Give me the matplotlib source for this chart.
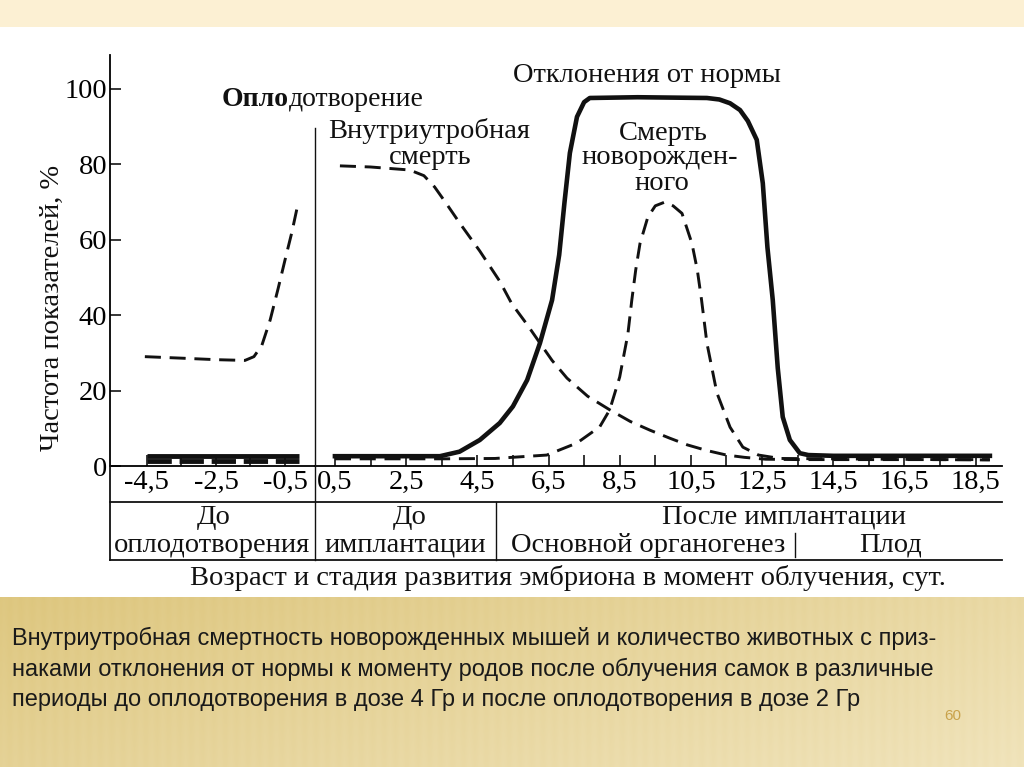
import numpy as np
import matplotlib
matplotlib.use("Agg")
import matplotlib.pyplot as plt
from matplotlib.lines import Line2D

# figure size in pixels
W, H = 1024, 767

# ---- data (days, percent) ----
# before fertilization
pre_death_days = [-4.56, -3.5, -2.5, -1.66, -1.4, -1.17, -0.93, -0.7, -0.5, -0.3, -0.15]
pre_death_vals = [29, 28.6, 28.2, 28, 29, 32, 38.7, 47, 54.6, 62, 68.4]
pre_abn_days = [-4.5, -0.1]
pre_abn_vals = [2.6, 2.6]
pre_newborn_days = [-4.5, -0.1]
pre_newborn_vals = [1.3, 1.3]

# after fertilization
abn_days = [0.5, 3.45, 4.0, 4.57, 5.13, 5.5, 5.9, 6.26, 6.6, 6.8, 6.95, 7.1, 7.3, 7.5, 7.66,
            9.0, 10.95, 11.3, 11.6, 11.88, 12.1, 12.35, 12.52, 12.65, 12.8, 12.94, 13.08,
            13.28, 13.56, 13.8, 14.5, 18.9]
abn_vals = [2.6, 2.6, 3.8, 6.9, 11.4, 15.8, 22.8, 32.6, 44, 56, 70, 83, 92.6, 96.5, 97.6,
            97.8, 97.6, 97.2, 96.2, 94.4, 91.5, 86.5, 75, 58, 44, 26, 13,
            6.9, 3.4, 2.9, 2.7, 2.7]

death_days = [0.64, 1.5, 2.6, 3.0, 3.3, 3.6, 4.0, 4.57, 5.13, 5.47, 5.9, 6.26, 6.6, 7.02,
              7.6, 8.22, 8.8, 9.35, 9.9, 10.4, 10.95, 11.5, 12.0, 12.6, 13.5, 14.5, 18.9]
death_vals = [79.6, 79.3, 78.5, 77, 74, 70, 64.5, 57, 49, 43, 37.5, 32.6, 28, 23.3,
              18.5, 14.9, 11.8, 9.5, 7.4, 5.6, 4.1, 2.9, 2.3, 1.8, 1.7, 1.7, 1.7]

newborn_days = [0.5, 3.5, 5.0, 6.45, 7.3, 7.94, 8.22, 8.5, 8.73, 8.84, 8.95, 9.07, 9.29, 9.5,
                9.77, 10.0, 10.25, 10.53, 10.68, 10.8, 10.95, 11.23, 11.6, 11.96, 12.4,
                13.0, 18.9]
newborn_vals = [1.9, 1.9, 2.0, 2.9, 6.1, 10.4, 14.9, 23.6, 35, 44, 52, 59, 66, 69,
                70, 69, 67, 59, 52, 44, 32.6, 19.4, 10.3, 5, 2.9,
                2.0, 1.6]

pre_ticks = [-4.5, -2.5, -0.5]
pre_minor = [-3.5, -1.5]
post_ticks = [0.5, 2.5, 4.5, 6.5, 8.5, 10.5, 12.5, 14.5, 16.5, 18.5]
post_minor = [1.5, 3.5, 5.5, 7.5, 9.5, 11.5, 13.5, 15.5, 17.5]
y_ticks = [0, 20, 40, 60, 80, 100]

caption = ("Внутриутробная смертность новорожденных мышей и количество животных с приз-\n"
           "наками отклонения от нормы к моменту родов после облучения самок в различные\n"
           "периоды до оплодотворения в дозе 4 Гр и после оплодотворения в дозе 2 Гр")


def fx(px):
    return px / W


def fy(py):
    return 1 - py / H


def comma(v):
    return f"{v:.1f}".replace(".", ",")


SERIF = "Liberation Serif"
FS = 20.5

fig = plt.figure(figsize=(W / 100, H / 100), dpi=100)

# ---- slide background ----
bg = fig.add_axes([0, 0, 1, 1], zorder=-5)
bg.axis("off")
bg.add_patch(plt.Rectangle((0, 0), W, 27, color="#fcf0d3", lw=0))
# golden striped band
gx = np.linspace(0, 1, 400)
gy = np.linspace(0, 1, 100)
GX, GY = np.meshgrid(gx, gy)
stripes = 0.03 * np.sin(GX * 2 * np.pi * 90)
t = np.clip(0.5 * GX + 0.3 * GY + stripes, 0, 1)
c0 = np.array([0.87, 0.78, 0.50])
c1 = np.array([0.96, 0.92, 0.79])
img = c0[None, None, :] * (1 - t[..., None]) + c1[None, None, :] * t[..., None]
bg.imshow(img, extent=(0, W, H, 597), aspect="auto", interpolation="bilinear")
bg.set_xlim(0, W)
bg.set_ylim(H, 0)

# ---- chart axes ----
bottom, top = fy(466), fy(55)
axL = fig.add_axes([fx(110), bottom, fx(315) - fx(110), top - bottom])
axR = fig.add_axes([fx(315), bottom, fx(1002) - fx(315), top - bottom])
axL.set_xlim(-5.57, 0.37)
axR.set_xlim(-0.06, 19.24)
for ax in (axL, axR):
    ax.set_ylim(0, 109)
    ax.set_facecolor("none")
    ax.spines["top"].set_visible(False)
    ax.spines["right"].set_visible(False)
    ax.spines["bottom"].set_linewidth(1.3)
    ax.tick_params(axis="both", which="both", direction="in", length=8, width=1.1,
                   labelsize=FS, pad=3)

axR.spines["left"].set_visible(False)
axR.set_yticks([])
axL.spines["left"].set_linewidth(1.3)
axL.tick_params(axis="y", pad=2)

axL.set_yticks(y_ticks)
axL.set_yticklabels([str(v) for v in y_ticks], fontfamily=SERIF, fontsize=FS)
axL.set_xticks(pre_ticks)
axL.set_xticklabels([comma(v) for v in pre_ticks], fontfamily=SERIF, fontsize=FS)
axL.set_xticks(pre_minor, minor=True)
axR.set_xticks(post_ticks)
axR.set_xticklabels([comma(v) for v in post_ticks], fontfamily=SERIF, fontsize=FS)
axR.set_xticks(post_minor, minor=True)

dash = (5.5, 3)
LWD = 2.1
# before fertilization
axL.plot(pre_abn_days, pre_abn_vals, color="#111", lw=3.5, solid_capstyle="butt")
axL.plot(pre_newborn_days, pre_newborn_vals, color="#111", lw=3.5, dashes=(5, 1.6))
axL.plot(pre_death_days, pre_death_vals, color="#111", lw=LWD, dashes=dash)
# after fertilization
axR.plot(abn_days, abn_vals, color="#111", lw=3.3, solid_joinstyle="round")
axR.plot(death_days, death_vals, color="#111", lw=LWD, dashes=dash)
axR.plot(newborn_days, newborn_vals, color="#111", lw=LWD, dashes=dash)


# ---- table lines under the axis ----
def fline(x0, y0, x1, y1, lw=1.2):
    fig.add_artist(Line2D([fx(x0), fx(x1)], [fy(y0), fy(y1)], transform=fig.transFigure,
                          color="#111", lw=lw))


fline(110, 466, 110, 560, 1.3)
fline(315, 128, 315, 560, 1.0)
fline(496, 502, 496, 560, 1.0)
fline(795, 533, 795, 557, 1.0)
fline(110, 502, 1002, 502, 1.3)
fline(110, 560, 1002, 560, 1.3)

tkw = dict(fontfamily=SERIF, fontsize=FS, ha="center", va="center", color="#111")
fig.text(fx(214), fy(517), "До", **tkw)
fig.text(fx(212), fy(545), "оплодотворения", **tkw)
fig.text(fx(410), fy(517), "До", **tkw)
fig.text(fx(405), fy(545), "имплантации", **tkw)
fig.text(fx(784), fy(517), "После имплантации", **tkw)
fig.text(fx(648), fy(545), "Основной органогенез", **tkw)
fig.text(fx(891), fy(545), "Плод", **tkw)
fig.text(fx(568), fy(578), "Возраст и стадия развития эмбриона в момент облучения, сут.", **tkw)
fig.text(fx(52), fy(308), "Частота показателей, %", rotation=90, **tkw)

# ---- annotations ----
fig.text(fx(647), fy(76), "Отклонения от нормы", **tkw)
fig.text(fx(429), fy(131), "Внутриутробная", **tkw)
fig.text(fx(430), fy(157), "смерть", **tkw)
fig.text(fx(663), fy(133), "Смерть", **tkw)
fig.text(fx(660), fy(158), "новорожден-", **tkw)
fig.text(fx(662), fy(183), "ного", **tkw)

t1 = fig.text(fx(222), fy(100), "Опло", fontfamily=SERIF, fontsize=FS - 0.5, fontweight="bold",
              ha="left", va="center", color="#111")
fig.canvas.draw()
ext = t1.get_window_extent()
fig.text(ext.x1 / W, fy(100), "дотворение", fontfamily=SERIF, fontsize=FS - 0.5,
         ha="left", va="center", color="#111")

# ---- caption ----
fig.text(fx(12), fy(627), caption, fontfamily="Liberation Sans", fontsize=17,
         ha="left", va="top", color="#1a1a1a", linespacing=1.45)
fig.text(fx(953), fy(716), "60", fontfamily="Liberation Sans", fontsize=11,
         ha="center", va="center", color="#c9a24a")

fig.savefig("out.png", dpi=100)
